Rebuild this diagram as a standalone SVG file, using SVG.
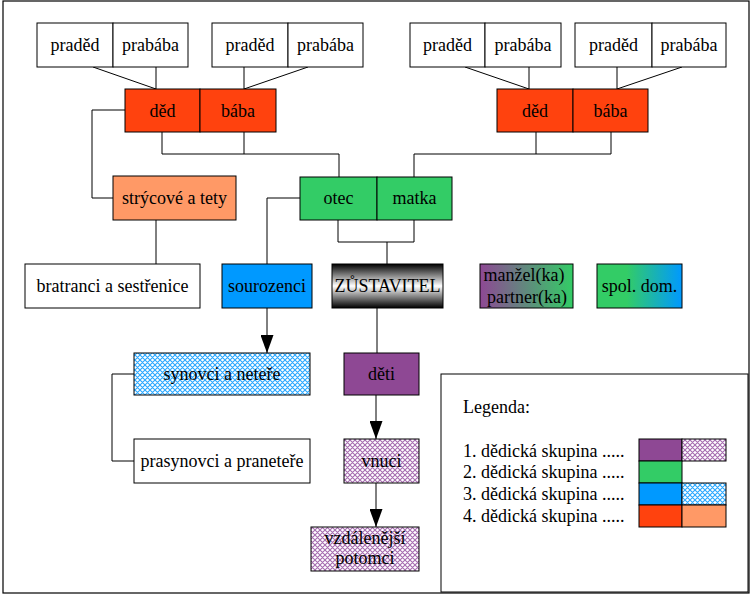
<svg xmlns="http://www.w3.org/2000/svg" width="752" height="596" viewBox="0 0 752 596" font-family="'Liberation Serif', 'DejaVu Serif', serif">
<style>
.b{stroke:#000;stroke-width:1}
.w{fill:#fff}
.r{fill:#FF420E}
.o{fill:#FF9966}
.g{fill:#33CC66}
.bl{fill:#0099FF}
.t{font-size:18px;fill:#000;text-anchor:middle}
.lt{font-size:18px;fill:#000}
.c{fill:none;stroke:#000;stroke-width:1}
</style>
<defs>
<pattern id="hb" width="5" height="5" patternUnits="userSpaceOnUse">
<rect width="5" height="5" fill="#fff"/>
<path d="M0,0 L5,5 M5,0 L0,5 M-1,4 L1,6 M4,-1 L6,1 M4,6 L6,4 M-1,1 L1,-1" stroke="#2AA8FF" stroke-width="1.1"/>
</pattern>
<pattern id="hp" width="5" height="5" patternUnits="userSpaceOnUse">
<rect width="5" height="5" fill="#fff"/>
<path d="M0,0 L5,5 M5,0 L0,5 M-1,4 L1,6 M4,-1 L6,1 M4,6 L6,4 M-1,1 L1,-1" stroke="#A66BB0" stroke-width="1.1"/>
</pattern>
<linearGradient id="gz" x1="0" y1="0" x2="0" y2="1">
<stop offset="0" stop-color="#000"/>
<stop offset="0.5" stop-color="#fff"/>
<stop offset="1" stop-color="#000"/>
</linearGradient>
<linearGradient id="gm" x1="0" y1="0" x2="1" y2="0">
<stop offset="0" stop-color="#8E4894"/>
<stop offset="1" stop-color="#33CC66"/>
</linearGradient>
<linearGradient id="gs" x1="0" y1="0" x2="1" y2="0">
<stop offset="0" stop-color="#33CC66"/>
<stop offset="0.35" stop-color="#33CC66"/>
<stop offset="1" stop-color="#0099FF"/>
</linearGradient>
<marker id="ar" viewBox="0 -6.5 18 13" refX="18" refY="0" markerWidth="18" markerHeight="13" markerUnits="userSpaceOnUse" orient="auto">
<path d="M0,-6.5 L18,0 L0,6.5 z" fill="#000"/>
</marker>
</defs>
<rect x="3" y="1" width="746" height="592" fill="#fff" stroke="#000" stroke-width="1.2"/>

<g id="connectors">
<path class="c" d="M93,67 L156,89 M156,67 V89"/>
<path class="c" d="M308,67 L244,89 M244,67 V89"/>
<path class="c" d="M465,67 L529,89 M529,67 V89"/>
<path class="c" d="M682,67 L617,89 M617,67 V89"/>
<path class="c" d="M162,132 V154 H339 V177 M244,132 V154"/>
<path class="c" d="M536,132 V154 M611,132 V154 H414 V177"/>
<path class="c" d="M125,110 H92 V198 H113"/>
<path class="c" d="M156,220 V264"/>
<path class="c" d="M300,198 H267 V264"/>
<path class="c" d="M338,220 V242 H414 V220 M387,242 V264"/>
<path class="c" d="M377,308 V353"/>
<path class="c" d="M134,374 H112 V461 H134"/>
<path class="c" d="M267,308 V353" marker-end="url(#ar)"/>
<path class="c" d="M376,395 V439" marker-end="url(#ar)"/>
<path class="c" d="M376,483 V527" marker-end="url(#ar)"/>
</g>

<g id="praded1"><rect class="b w" x="37" y="23" width="76" height="44"/><text class="t" x="75" y="51">praděd</text></g>
<g id="prababa1"><rect class="b w" x="113" y="23" width="75" height="44"/><text class="t" x="150.5" y="51">prabába</text></g>
<g id="praded2"><rect class="b w" x="212" y="23" width="76" height="44"/><text class="t" x="250" y="51">praděd</text></g>
<g id="prababa2"><rect class="b w" x="288" y="23" width="75" height="44"/><text class="t" x="325.5" y="51">prabába</text></g>
<g id="praded3"><rect class="b w" x="410" y="23" width="75" height="44"/><text class="t" x="447.5" y="51">praděd</text></g>
<g id="prababa3"><rect class="b w" x="485" y="23" width="76" height="44"/><text class="t" x="523" y="51">prabába</text></g>
<g id="praded4"><rect class="b w" x="575" y="23" width="77" height="44"/><text class="t" x="613.5" y="51">praděd</text></g>
<g id="prababa4"><rect class="b w" x="652" y="23" width="74" height="44"/><text class="t" x="689" y="51">prabába</text></g>

<g id="ded1"><rect class="b r" x="125" y="89" width="75" height="43"/><text class="t" x="162.5" y="117">děd</text></g>
<g id="baba1"><rect class="b r" x="200" y="89" width="76" height="43"/><text class="t" x="238" y="117">bába</text></g>
<g id="ded2"><rect class="b r" x="497" y="89" width="76" height="43"/><text class="t" x="535" y="117">děd</text></g>
<g id="baba2"><rect class="b r" x="573" y="89" width="75" height="43"/><text class="t" x="610.5" y="117">bába</text></g>

<g id="strycove"><rect class="b o" x="113" y="176" width="123" height="44"/><text class="t" x="174.5" y="204">strýcové a tety</text></g>
<g id="otec"><rect class="b g" x="300" y="177" width="77" height="43"/><text class="t" x="338.5" y="204">otec</text></g>
<g id="matka"><rect class="b g" x="377" y="177" width="75" height="43"/><text class="t" x="414.5" y="204">matka</text></g>

<g id="bratranci"><rect class="b w" x="25" y="264" width="175" height="44"/><text class="t" x="112.5" y="292">bratranci a sestřenice</text></g>
<g id="sourozenci"><rect class="b bl" x="222" y="264" width="90" height="44"/><text class="t" x="267" y="292">sourozenci</text></g>
<g id="zustavitel"><rect x="332" y="264" width="111" height="44" fill="url(#gz)" stroke="#000"/><text class="t" x="387.5" y="292" textLength="106" lengthAdjust="spacingAndGlyphs">ZŮSTAVITEL</text></g>
<g id="manzel"><rect x="480" y="264" width="93" height="44" fill="url(#gm)" stroke="#000"/><text class="t" x="524" y="281">manžel(ka)</text><text class="t" x="527" y="303">partner(ka)</text></g>
<g id="spoldom"><rect x="597" y="264" width="85" height="44" fill="url(#gs)" stroke="#000"/><text class="t" x="639.5" y="292">spol. dom.</text></g>

<g id="synovci"><rect x="134" y="353" width="176" height="42" fill="url(#hb)" stroke="#000"/><text class="t" x="222" y="380">synovci a neteře</text></g>
<g id="prasynovci"><rect class="b w" x="134" y="439" width="176" height="44"/><text class="t" x="222" y="467">prasynovci a praneteře</text></g>
<g id="deti"><rect x="344" y="353" width="75" height="42" fill="#8E4894" stroke="#000"/><text class="t" x="381.5" y="380">děti</text></g>
<g id="vnuci"><rect x="344" y="439" width="75" height="44" fill="url(#hp)" stroke="#000"/><text class="t" x="381.5" y="467">vnuci</text></g>
<g id="vzdalenejsi"><rect x="311" y="527" width="108" height="44" fill="url(#hp)" stroke="#000"/><text class="t" x="365" y="544">vzdálenější</text><text class="t" x="365" y="564">potomci</text></g>

<g id="legenda">
<rect x="441" y="374" width="307" height="218" fill="#fff" stroke="#000"/>
<text class="lt" x="463" y="413">Legenda:</text>
<text class="lt" x="463" y="457">1. dědická skupina .....</text>
<text class="lt" x="463" y="478">2. dědická skupina .....</text>
<text class="lt" x="463" y="500">3. dědická skupina .....</text>
<text class="lt" x="463" y="522">4. dědická skupina .....</text>
<rect x="639" y="439" width="43" height="22" fill="#8E4894" stroke="#000"/>
<rect x="682" y="439" width="44" height="22" fill="url(#hp)" stroke="#000"/>
<rect class="b g" x="639" y="461" width="43" height="22"/>
<rect class="b bl" x="639" y="483" width="43" height="22"/>
<rect x="682" y="483" width="44" height="22" fill="url(#hb)" stroke="#000"/>
<rect class="b r" x="639" y="505" width="43" height="22"/>
<rect class="b o" x="682" y="505" width="44" height="22"/>
</g>
</svg>
